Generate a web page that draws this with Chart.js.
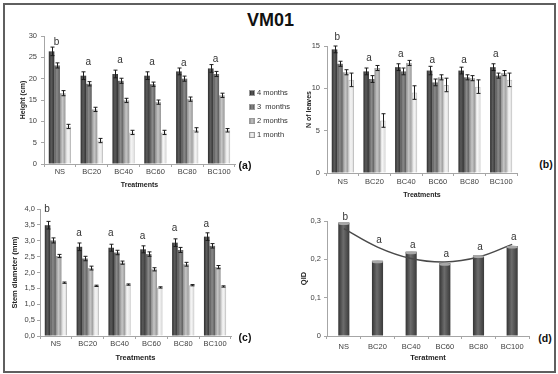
<!DOCTYPE html>
<html>
<head>
<meta charset="utf-8">
<script src="https://cdn.jsdelivr.net/npm/chart.js@4"></script>
<style>
  body { margin: 0; background: #fff; }
  #fig { position: relative; width: 558px; height: 374px; overflow: hidden; font-family: 'Liberation Sans', Arial, sans-serif; }
  #frame { position: absolute; left: 3px; top: 3px; width: 553px; height: 370px; border: 2px solid #5f5f5f; box-sizing: border-box; }
  canvas { position: absolute; }
  #title { position: absolute; left: 247px; top: 11px; font-size: 18px; line-height: 18px; font-weight: bold; color: #111; }
  .tag { position: absolute; font-size: 10.5px; line-height: 1; font-weight: bold; color: #111; transform: translate(-50%, -50%); }
  #legend { position: absolute; left: 249px; top: 86px; font-size: 7.5px; color: #333; }
  #legend div { height: 14px; line-height: 14px; white-space: pre; display: flex; align-items: center; }
  #legend i { display: inline-block; width: 4px; height: 4px; margin-right: 2px; border: 0.5px solid #999; }
</style>
</head>
<body>
<div id="fig">
  <div id="frame"></div>
  <div id="title">VM01</div>
  <canvas id="chartA" width="240" height="170" style="left:5px;top:20px"></canvas>
  <canvas id="chartB" width="240" height="175" style="left:285px;top:25px"></canvas>
  <canvas id="chartC" width="235" height="170" style="left:5px;top:195px"></canvas>
  <canvas id="chartD" width="250" height="160" style="left:285px;top:205px"></canvas>
  <div id="legend"></div>
  <span class="tag" style="left:245px;top:165px">(a)</span>
  <span class="tag" style="left:546px;top:164px">(b)</span>
  <span class="tag" style="left:245px;top:337px">(c)</span>
  <span class="tag" style="left:545px;top:338px">(d)</span>
</div>
<script>
// Categories and series
const treatments = ['NS', 'BC20', 'BC40', 'BC60', 'BC80', 'BC100'];
const ages = ['4 months', '3  months', '2 months', '1 month'];

// (a) Height (cm)
const height4 = [26.4, 20.7, 21.1, 20.7, 21.7, 22.4];
const height3 = [23.1, 18.8, 19.5, 18.7, 20.0, 21.1];
const height2 = [16.6, 12.8, 14.9, 14.5, 15.2, 16.1];
const height1 = [8.8, 5.5, 7.4, 7.4, 8.0, 7.9];
const heightErr4 = [1.0, 0.9, 0.9, 0.9, 0.8, 0.9];
const heightErr3 = [0.6, 0.5, 0.6, 0.5, 0.6, 0.6];
const heightErr2 = [0.6, 0.5, 0.5, 0.5, 0.5, 0.5];
const heightErr1 = [0.5, 0.5, 0.5, 0.5, 0.5, 0.4];
const heightLetters = ['b', 'a', 'a', 'a', 'a', 'a'];
const heightLetterAt = [28.6, 23.9, 24.3, 23.9, 23.6, 24.5];
const heightTicks = ['0', '5', '10', '15', '20', '25', '30'];

// (b) N of leaves
const leaves4 = [14.6, 12.0, 12.5, 12.1, 12.1, 12.5];
const leaves3 = [12.9, 11.1, 12.0, 10.7, 11.3, 11.5];
const leaves2 = [11.9, 12.4, 13.0, 11.3, 11.2, 11.8];
const leaves1 = [11.0, 6.2, 9.5, 10.4, 10.2, 11.0];
const leavesErr4 = [0.4, 0.4, 0.4, 0.5, 0.4, 0.4];
const leavesErr3 = [0.3, 0.4, 0.4, 0.4, 0.3, 0.3];
const leavesErr2 = [0.3, 0.3, 0.3, 0.3, 0.3, 0.3];
const leavesErr1 = [0.8, 0.8, 0.8, 0.8, 0.8, 0.8];
const leavesLetters = ['b', 'a', 'a', 'a', 'a', 'a'];
const leavesLetterAt = [16.0, 13.6, 14.0, 13.3, 13.3, 14.0];
const leavesTicks = ['0', '5', '10', '15'];

// (c) Stem diameter (mm)
const stem4 = [3.49, 2.81, 2.78, 2.73, 2.94, 3.13];
const stem3 = [3.01, 2.44, 2.63, 2.58, 2.71, 2.84];
const stem2 = [2.52, 2.14, 2.31, 2.10, 2.26, 2.17];
const stem1 = [1.68, 1.58, 1.62, 1.53, 1.60, 1.56];
const stemErr4 = [0.12, 0.12, 0.11, 0.11, 0.12, 0.12];
const stemErr3 = [0.08, 0.07, 0.07, 0.07, 0.08, 0.07];
const stemErr2 = [0.05, 0.06, 0.05, 0.05, 0.06, 0.05];
const stemErr1 = [0.02, 0.02, 0.02, 0.02, 0.02, 0.02];
const stemLetters = ['b', 'a', 'a', 'a', 'a', 'a'];
const stemLetterAt = [4.0, 3.23, 3.24, 3.13, 3.39, 3.52];
const stemTicks = ['0,0', '0,5', '1,0', '1,5', '2,0', '2,5', '3,0', '3,5', '4,0'];

// (d) QID with its polynomial trend
const qid = [0.296, 0.196, 0.220, 0.190, 0.210, 0.235];
const qidTrend = [0.280, 0.232, 0.202, 0.193, 0.206, 0.239];
const qidLetters = ['b', 'a', 'a', 'a', 'a', 'a'];
const qidLetterAt = [0.310, 0.250, 0.237, 0.214, 0.232, 0.258];
const qidTicks = ['0', '0,1', '0,2', '0,3'];

// left edge / middle / right edge of each bar gradient
const shades = [
  ['#2c2c2c', '#5c5c5c', '#323232'],
  ['#555555', '#8a8a8a', '#5b5b5b'],
  ['#8e8e8e', '#c6c6c6', '#979797'],
  ['#d0d0d0', '#f5f5f5', '#d6d6d6']
];
const qidShade = ['#343434', '#6c6c6c', '#3a3a3a'];

const FONT = "'Liberation Sans', Arial, sans-serif";
Chart.defaults.font.family = FONT;

// horizontal gradient on each bar (backgroundColor is scriptable so options are per bar)
const shade = {
  id: 'shade',
  beforeDatasetsDraw(chart) {
    const ctx = chart.ctx;
    chart.data.datasets.forEach((ds, i) => {
      if (!ds.shades) return;
      chart.getDatasetMeta(i).data.forEach(bar => {
        const g = ctx.createLinearGradient(bar.x - bar.width / 2, 0, bar.x + bar.width / 2, 0);
        g.addColorStop(0, ds.shades[0]);
        g.addColorStop(0.45, ds.shades[1]);
        g.addColorStop(1, ds.shades[2]);
        bar.options.backgroundColor = g;
      });
    });
  }
};

// light cap on top of the qid columns
const caps = {
  id: 'caps',
  afterDatasetsDraw(chart) {
    const ctx = chart.ctx;
    chart.data.datasets.forEach((ds, i) => {
      if (!ds.cap) return;
      chart.getDatasetMeta(i).data.forEach(bar => {
        ctx.save();
        ctx.fillStyle = '#a8a8a8';
        ctx.beginPath();
        ctx.ellipse(bar.x, bar.y + 1, bar.width / 2, 1.5, 0, 0, Math.PI * 2);
        ctx.fill();
        ctx.restore();
      });
    });
  }
};

// error bars
const whiskers = {
  id: 'whiskers',
  afterDatasetsDraw(chart) {
    const ctx = chart.ctx;
    const y = chart.scales.y;
    chart.data.datasets.forEach((ds, i) => {
      if (!ds.errors) return;
      chart.getDatasetMeta(i).data.forEach((bar, j) => {
        const v = ds.data[j], e = ds.errors[j];
        const x = Math.round(bar.x) + 0.5;
        const top = y.getPixelForValue(v + e), bot = y.getPixelForValue(v - e);
        ctx.save();
        ctx.strokeStyle = '#1c1c1c';
        ctx.lineWidth = 1;
        ctx.beginPath();
        ctx.moveTo(x, top); ctx.lineTo(x, bot);
        ctx.moveTo(x - 2, top); ctx.lineTo(x + 2, top);
        ctx.moveTo(x - 2, bot); ctx.lineTo(x + 2, bot);
        ctx.stroke();
        ctx.restore();
      });
    });
  }
};

// significance letters
const letters = {
  id: 'letters',
  afterDatasetsDraw(chart, args, o) {
    if (!o.text) return;
    const ctx = chart.ctx;
    const {x, y} = chart.scales;
    ctx.save();
    ctx.font = '10px ' + FONT;
    ctx.fillStyle = '#333';
    ctx.textAlign = 'center';
    ctx.textBaseline = 'middle';
    o.text.forEach((t, i) => ctx.fillText(t, x.getPixelForValue(i) + o.dx, y.getPixelForValue(o.at[i])));
    ctx.restore();
  }
};

Chart.register(shade, caps, whiskers, letters);

function baseOptions(o) {
  const axisGrey = '#a6a6a6';
  return {
    responsive: false,
    animation: false,
    devicePixelRatio: 1,
    layout: { padding: { left: 0, right: o.padRight, top: o.padTop, bottom: 0 } },
    plugins: {
      legend: { display: false },
      tooltip: { enabled: false },
      letters: { text: o.letters, at: o.letterAt, dx: o.dx }
    },
    scales: {
      x: {
        grid: { drawOnChartArea: false, tickLength: 3, color: axisGrey },
        border: { color: axisGrey },
        ticks: { padding: o.xTickPad, font: { size: 7.5 }, color: '#404040', maxRotation: 0, autoSkip: false },
        title: {
          display: true, text: o.xTitle, color: '#222',
          font: { size: o.titleSize, weight: 'bold' },
          padding: { top: 0, bottom: o.xTitlePad }
        },
        afterFit: s => { s.height = o.xHeight; }
      },
      y: {
        min: 0,
        max: o.max,
        grid: { drawOnChartArea: false, tickLength: 3, color: axisGrey },
        border: { color: axisGrey },
        ticks: {
          stepSize: o.step, padding: o.yTickPad, font: { size: 7.5 }, color: '#404040',
          callback: (v, i) => o.tickText[i]
        },
        title: {
          display: true, text: o.yTitle, color: '#222',
          font: { size: o.titleSize, weight: 'bold' },
          padding: { top: o.yTitlePad, bottom: 0 }
        },
        afterFit: s => { s.width = o.yWidth; }
      }
    }
  };
}

function groupedChart(id, series, errors, o) {
  return new Chart(document.getElementById(id), {
    type: 'bar',
    data: {
      labels: treatments,
      datasets: series.map((vals, k) => ({
        label: ages[k],
        data: vals,
        errors: errors[k],
        shades: shades[k],
        backgroundColor: () => shades[k][1],
        borderColor: k === 3 ? '#b8b8b8' : 'rgba(0,0,0,0)',
        borderWidth: k === 3 ? 1 : 0,
        barPercentage: 1,
        categoryPercentage: 0.7
      }))
    },
    options: baseOptions(o)
  });
}

groupedChart('chartA',
  [height4, height3, height2, height1],
  [heightErr4, heightErr3, heightErr2, heightErr1],
  {
    max: 30, step: 5, tickText: heightTicks, yTitle: 'Height (cm)', xTitle: 'Treatments',
    letters: heightLetters, letterAt: heightLetterAt, dx: -3.5,
    titleSize: 7, yWidth: 39, xHeight: 26, padRight: 10, padTop: 16,
    yTitlePad: 13.5, xTitlePad: 0.8, xTickPad: 0.5, yTickPad: 4
  });

groupedChart('chartB',
  [leaves4, leaves3, leaves2, leaves1],
  [leavesErr4, leavesErr3, leavesErr2, leavesErr1],
  {
    max: 15, step: 5, tickText: leavesTicks, yTitle: 'N of leaves', xTitle: 'Treatments',
    letters: leavesLetters, letterAt: leavesLetterAt, dx: -5.5,
    titleSize: 7, yWidth: 42, xHeight: 27, padRight: 8, padTop: 21,
    yTitlePad: 19.8, xTitlePad: 0.8, xTickPad: 1.5, yTickPad: 4
  });

groupedChart('chartC',
  [stem4, stem3, stem2, stem1],
  [stemErr4, stemErr3, stemErr2, stemErr1],
  {
    max: 4, step: 0.5, tickText: stemTicks, yTitle: 'Stem diameter (mm)', xTitle: 'Treatments',
    letters: stemLetters, letterAt: stemLetterAt, dx: -8.8,
    titleSize: 7.5, yWidth: 35, xHeight: 29, padRight: 9, padTop: 14,
    yTitlePad: 5.5, xTitlePad: 2.5, xTickPad: 0.5, yTickPad: 2
  });

new Chart(document.getElementById('chartD'), {
  type: 'bar',
  data: {
    labels: treatments,
    datasets: [
      {
        type: 'line',
        label: 'trend',
        data: qidTrend,
        borderColor: '#4a4a4a',
        borderWidth: 1.5,
        tension: 0.4,
        pointRadius: 0,
        order: 0
      },
      {
        label: 'QID',
        data: qid,
        shades: qidShade,
        cap: true,
        backgroundColor: () => qidShade[1],
        barPercentage: 0.33,
        categoryPercentage: 1,
        order: 1
      }
    ]
  },
  options: baseOptions({
    max: 0.3, step: 0.1, tickText: qidTicks, yTitle: 'QID', xTitle: 'Teratment',
    letters: qidLetters, letterAt: qidLetterAt, dx: 1.5,
    titleSize: 7.5, yWidth: 42, xHeight: 29, padRight: 6, padTop: 16,
    yTitlePad: 14.5, xTitlePad: 2.5, xTickPad: 3.5, yTickPad: 3
  })
});

// legend for the grouped charts
const legend = document.getElementById('legend');
ages.forEach((name, k) => {
  const row = document.createElement('div');
  const box = document.createElement('i');
  box.style.background = `linear-gradient(90deg, ${shades[k][0]}, ${shades[k][1]}, ${shades[k][2]})`;
  row.appendChild(box);
  row.appendChild(document.createTextNode(name));
  legend.appendChild(row);
});
</script>
</body>
</html>
